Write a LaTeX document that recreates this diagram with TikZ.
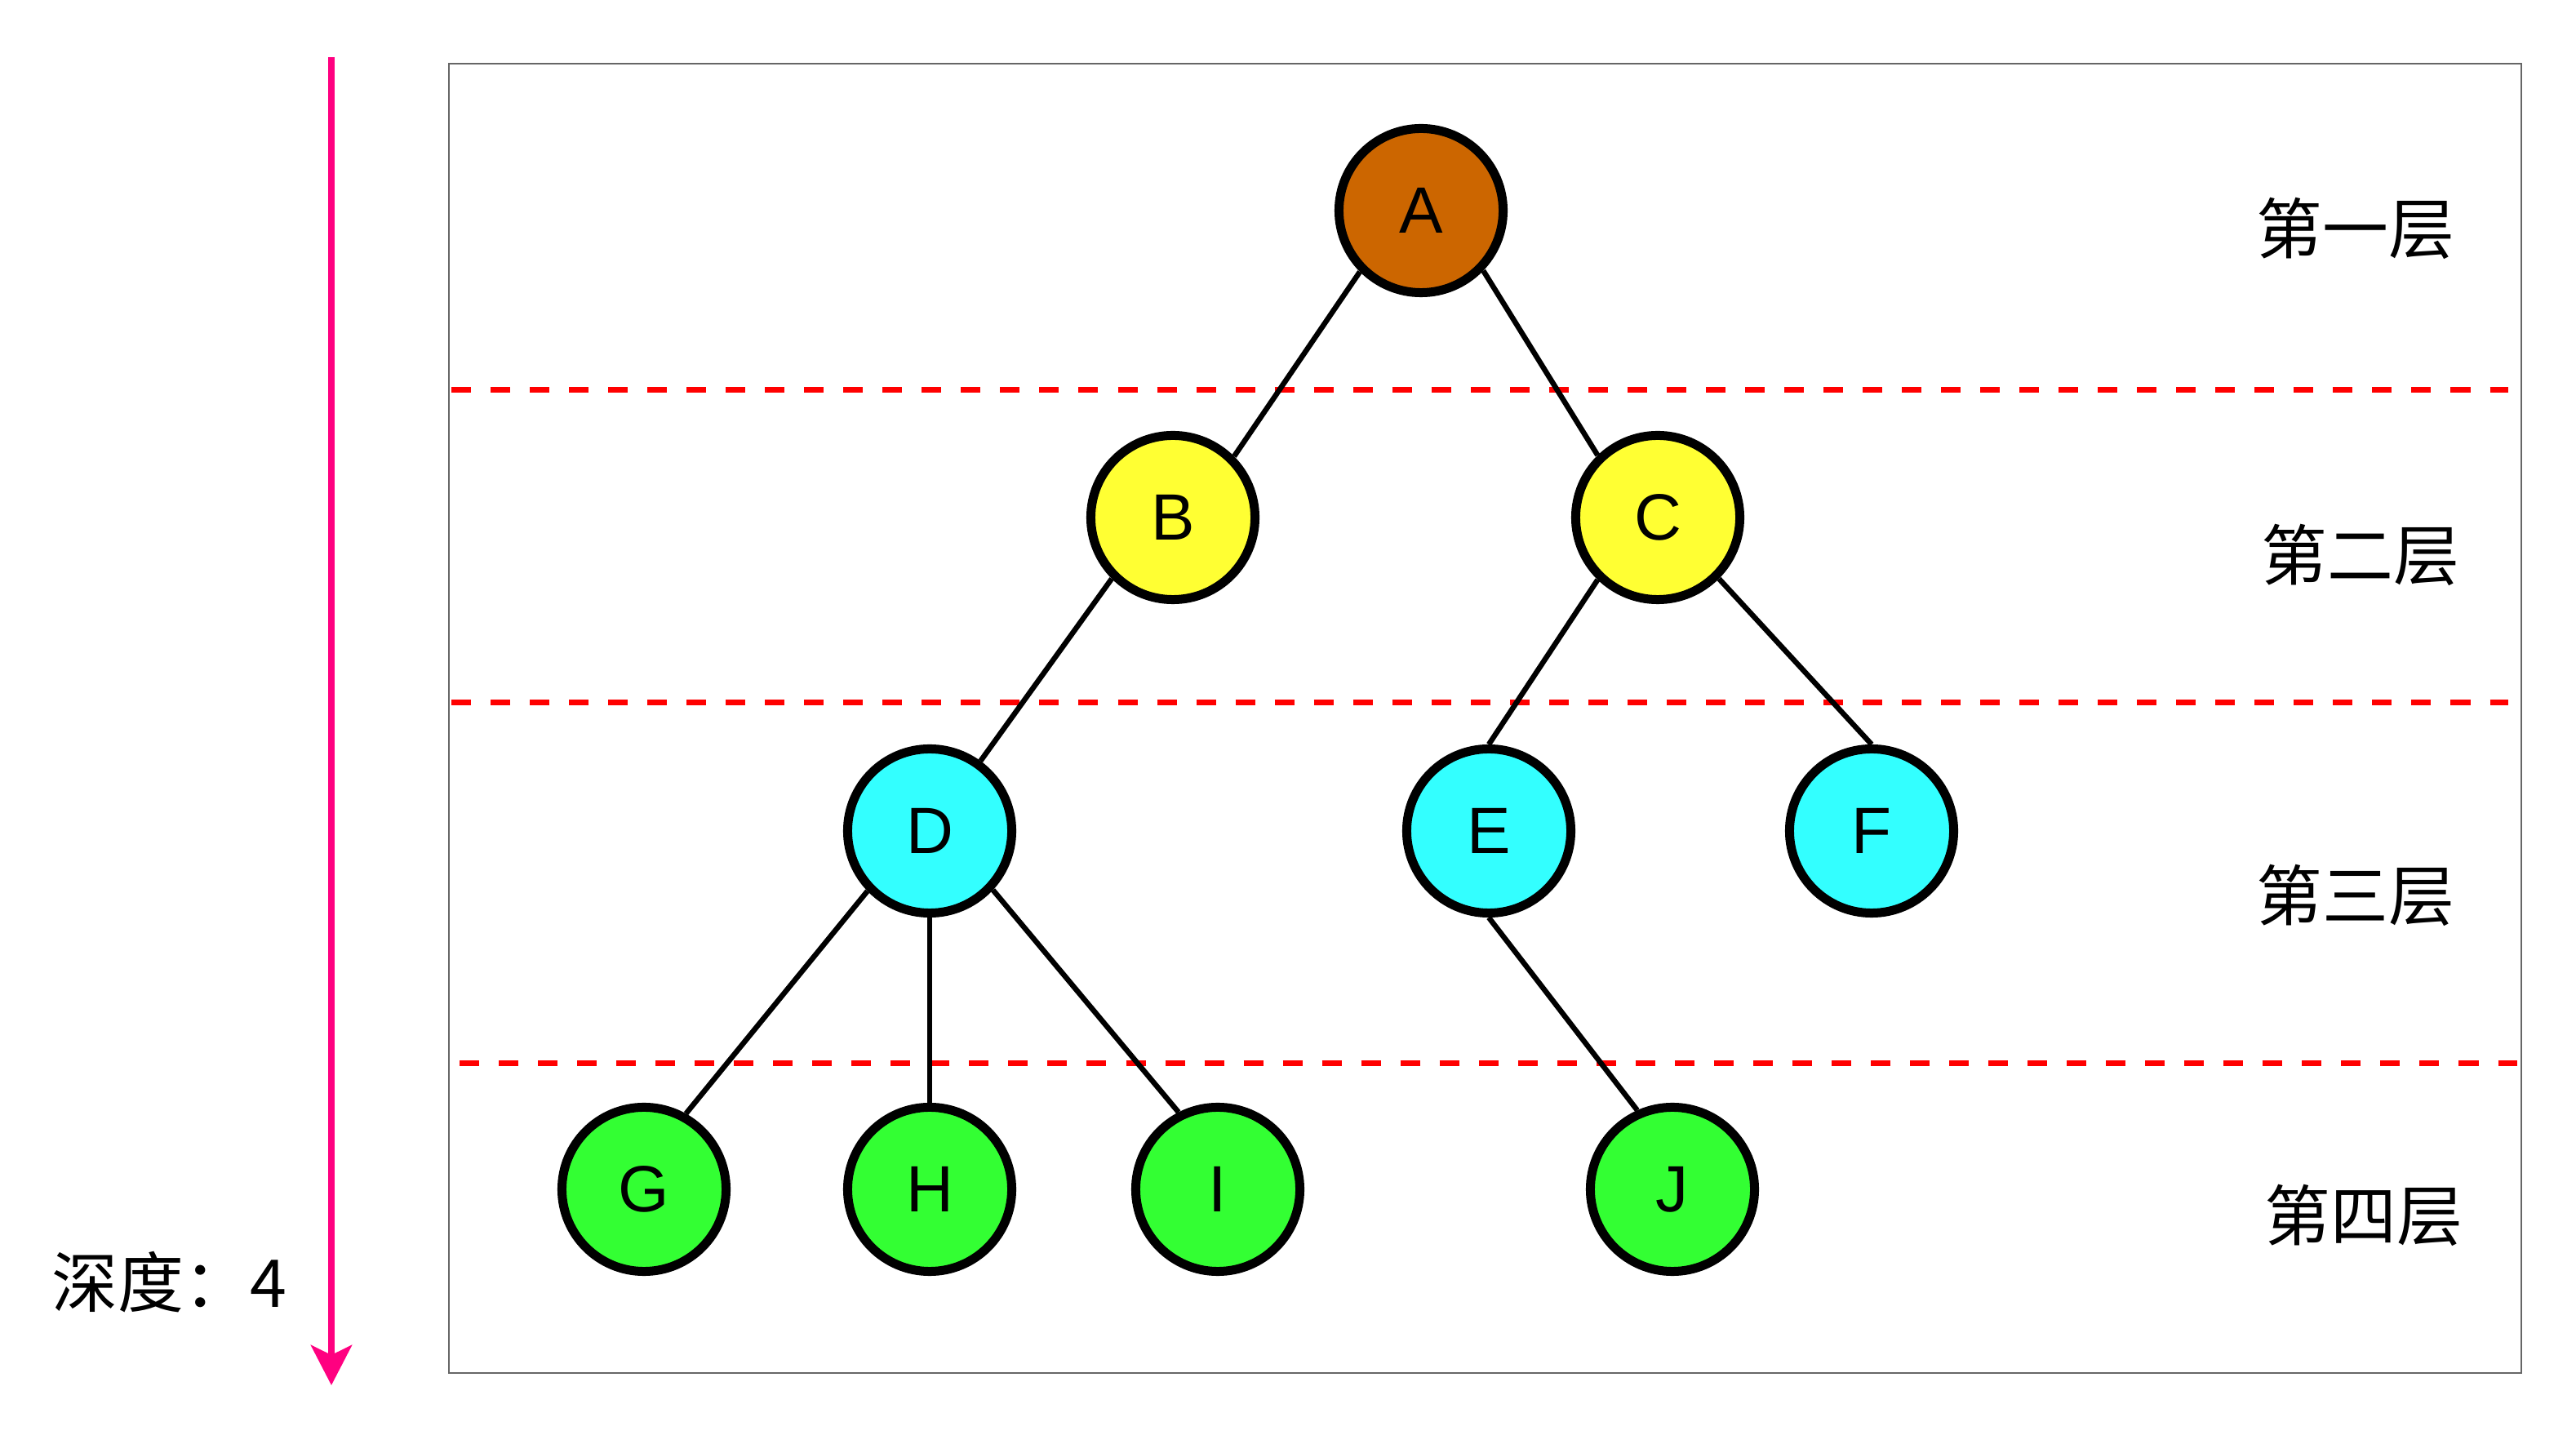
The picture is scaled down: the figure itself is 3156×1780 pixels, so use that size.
\documentclass[tikz,border=0pt]{standalone}
\usepackage{fontspec}
\setmainfont{Liberation Sans}
\newfontfamily\cjk{Noto Sans CJK SC}
\usetikzlibrary{arrows.meta}
\definecolor{nodeA}{HTML}{CC6600}
\definecolor{nodeY}{HTML}{FFFF33}
\definecolor{nodeC}{HTML}{33FFFF}
\definecolor{nodeG}{HTML}{33FF33}
\definecolor{boxgray}{HTML}{666666}
\definecolor{arrowpink}{HTML}{FF0080}
\tikzset{
  tnode/.style={circle, draw=black, line width=0.11cm, minimum size=2.01cm, inner sep=0pt,
    font=\fontsize{22.8pt}{24pt}\selectfont},
  edge/.style={draw=black, line width=0.065cm},
  layerline/.style={draw=red, line width=0.07cm, dash pattern=on 0.24cm off 0.24cm},
  layerlabel/.style={font=\cjk\fontsize{23pt}{25pt}\selectfont, inner sep=0pt},
}
\begin{document}
\begin{tikzpicture}[x=0.01cm, y=-0.01cm]
\useasboundingbox (0,0) rectangle (3156,1780);
% frame
\draw[boxgray, line width=0.025cm] (550,78) rectangle (3089,1682);
% layer separators
\coordinate (l1s) at (553,478); \coordinate (l1e) at (3073,478);
\coordinate (l2s) at (553,861); \coordinate (l2e) at (3073,861);
\coordinate (l3s) at (563,1303); \coordinate (l3e) at (3084,1303);
\draw[layerline] (l1s) -- (l1e);
\draw[layerline] (l2s) -- (l2e);
\draw[layerline] (l3s) -- (l3e);
% layer labels
\node[layerlabel] (t1) at (2886,280) {第一层};
\node[layerlabel] (t2) at (2892,680) {第二层};
\node[layerlabel] (t3) at (2886,1097) {第三层};
\node[layerlabel] (t4) at (2896,1489) {第四层};
% depth arrow
\coordinate (ds) at (406,70);
\coordinate (de) at (406,1697);
\draw[arrowpink, line width=0.08cm, -{Stealth[length=0.49cm, width=0.5cm, inset=0.12cm]}] (ds) -- (de);
\node[font=\cjk\fontsize{23pt}{25pt}\selectfont, anchor=west, inner sep=0pt] (depth) at (63,1571) {深度：4};
% nodes
\node[tnode, fill=nodeA] (A) at (1741,258) {A};
\node[tnode, fill=nodeY] (B) at (1437,634) {B};
\node[tnode, fill=nodeY] (C) at (2031,634) {C};
\node[tnode, fill=nodeC] (D) at (1139,1018) {D};
\node[tnode, fill=nodeC] (E) at (1824,1018) {E};
\node[tnode, fill=nodeC] (F) at (2293,1018) {F};
\node[tnode, fill=nodeG] (G) at (789,1457) {G};
\node[tnode, fill=nodeG] (H) at (1139,1457) {H};
\node[tnode, fill=nodeG] (I) at (1492,1457) {I};
\node[tnode, fill=nodeG] (J) at (2049,1457) {J};
% edges
\draw[edge] (A.225) -- (B.45);
\draw[edge] (A.-44) -- (C.134);
\draw[edge] (B.225) -- (D.54);
\draw[edge] (C.226) -- (E.north);
\draw[edge] (C.-45) -- (F.north);
\draw[edge] (D.224) -- (G.61);
\draw[edge] (D.south) -- (H.north);
\draw[edge] (D.-43) -- (I.117);
\draw[edge] (E.south) -- (J.114);
\end{tikzpicture}
\end{document}
